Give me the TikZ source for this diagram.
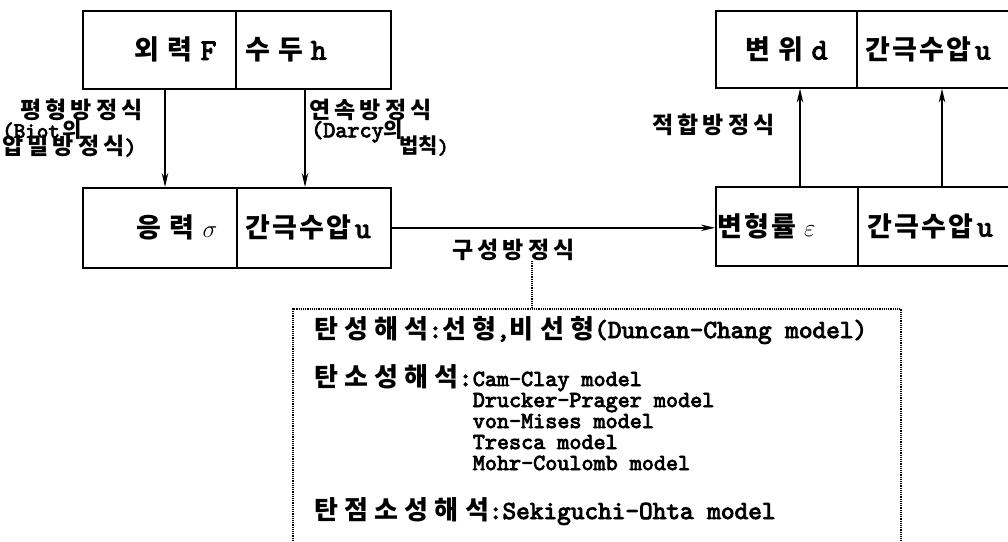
\documentclass[tikz,border=0pt]{standalone}
\usepackage{fontspec}
\usetikzlibrary{arrows.meta}
\newfontfamily\krA{Noto Sans CJK KR}[LetterSpace=8]
\newfontfamily\krB{Noto Sans CJK KR}[LetterSpace=18]
\newfontfamily\krC{Noto Sans CJK KR}[LetterSpace=24]
\newfontfamily\krD{Noto Sans CJK KR}
\newfontfamily\mob{lmmono10-regular}[Extension=.otf, FakeBold=3.5]
\newcommand\KA[1]{{\krA\bfseries #1}}
\newcommand\KB[1]{{\krB\bfseries #1}}
\newcommand\KC[1]{{\krC\bfseries #1}}
\newcommand\KD[1]{{\krD\bfseries #1}}
\newcommand\MO[1]{{\mob #1}}
\newcommand\BL[1]{{\fontsize{30}{30}\selectfont\mob #1}}
\begin{document}
\begin{tikzpicture}[x=1pt,y=-1pt,
  cell/.style={draw, line width=1.6pt, inner sep=0pt, anchor=north west},
  arr/.style={line width=1.4pt, -{Stealth[length=14pt,width=6.5pt]}},
  boxtxt/.style={inner sep=0pt, font=\fontsize{27}{29}\selectfont},
  lbl/.style={inner sep=0pt, anchor=west, font=\fontsize{23}{25}\selectfont},
  body/.style={inner sep=0pt, anchor=base west, font=\fontsize{26}{28}\selectfont},
  small/.style={inner sep=0pt, anchor=base west, font=\fontsize{23}{25}\selectfont},
  dotline/.style={densely dotted, line width=1.2pt}]
\useasboundingbox (0,0) rectangle (1008,541);
% cells
\node[cell, minimum width=153pt, minimum height=78pt] (F) at (82,10) {};
\node[cell, minimum width=155pt, minimum height=78pt] (h) at (235,10) {};
\node[cell, minimum width=154pt, minimum height=80pt] (sig) at (82,187) {};
\node[cell, minimum width=154pt, minimum height=80pt] (u1) at (236,187) {};
\node[cell, minimum width=141pt, minimum height=77pt] (d) at (715,10) {};
\node[cell, minimum width=160pt, minimum height=77pt] (u2) at (856,10) {};
\node[cell, minimum width=142pt, minimum height=79pt] (eps) at (715,186) {};
\node[cell, minimum width=160pt, minimum height=79pt] (u3) at (857,186) {};
% cell texts
\node[boxtxt, anchor=east] (tF) at ([xshift=-20pt]F.east) {\KA{외}\hspace{8pt}\KA{력}\hspace{8pt}\BL{F}};
\node[boxtxt, anchor=west] (th) at ([xshift=10pt]h.west) {\KA{수}\hspace{8pt}\KA{두}\hspace{8pt}\BL{h}};
\node[boxtxt, anchor=east] (tsig) at ([xshift=-20pt]sig.east) {\KA{응}\hspace{8pt}\KA{력}\hspace{8pt}$\sigma$};
\node[boxtxt, anchor=west] (tu1) at ([xshift=9pt]u1.west) {\KA{간극수압}\hspace{4pt}\BL{u}};
\node[boxtxt, anchor=east] (td) at ([xshift=-30pt]d.east) {\KA{변}\hspace{8pt}\KA{위}\hspace{8pt}\BL{d}};
\node[boxtxt, anchor=west] (tu2) at ([xshift=9pt]u2.west) {\KA{간극수압}\hspace{4pt}\BL{u}};
\node[boxtxt, anchor=west] (teps) at ([xshift=2pt]eps.west) {\KA{변형률}\hspace{8pt}$\varepsilon$};
\node[boxtxt, anchor=west] (tu3) at ([xshift=10pt]u3.west) {\KA{간극수압}\hspace{4pt}\BL{u}};
% arrows
\draw[arr] (F.south west -| 165,0) -- (sig.north west -| 165,0);
\draw[arr] (h.south west -| 305,0) -- (u1.north west -| 305,0);
\draw[arr] (eps.north west -| 800,0) -- (d.south west -| 800,0);
\draw[arr] (u3.north west -| 942,0) -- (u2.south west -| 942,0);
\draw[arr] (u1.east) -- (u1.east -| eps.west);
% labels
\node[lbl] (l1) at (20,110) {\KB{평형방정식}};
\node[lbl, font=\fontsize{22}{22}\selectfont] (biot) at (2,130) {\MO{(Biot}\hspace{3pt}{\fontsize{21}{22}\selectfont\KD{의}}};
\node[lbl] (l1b) at (2,146) {\KB{압밀방정식}\MO{)}};
\node[lbl] (l2) at (309,110) {\KB{연속방정식}};
\node[lbl, font=\fontsize{23}{25}\selectfont] (darcy) at (311,131) {\MO{(Darcy}{\fontsize{21}{22}\selectfont\KD{의}}};
\node[lbl, font=\fontsize{21}{22}\selectfont] (law) at (399,146) {\KD{법칙}\MO{)}};
\node[lbl] (l3) at (652,125) {\KB{적합방정식}};
\node[lbl] (ks) at (452,250) {\KB{구성방정식}};
% dotted box
\coordinate (bt) at (532,309);
\coordinate (bl) at (293,541);
\coordinate (btl) at (293,309);
\coordinate (btr) at (901,309);
\coordinate (br) at (901,541);
\draw[dotline] (ks.south -| bt) -- (bt);
\draw[dotline] (bl) -- (btl) -- (btr) -- (br);
% body text
\node[body] (b1) at (314,338) {\KC{탄성해석}\MO{:}\KC{선형}\MO{,}\KC{비선형}\MO{(Duncan-Chang model)}};
\node[body] (b2) at (314,386) {\KC{탄소성해석}\MO{:}};
\node[small] (cam) at (b2.base east) {\MO{Cam-Clay model}};
\node[small] (dp) at ([yshift=-21pt]cam.base west) {\MO{Drucker-Prager model}};
\node[small] (vm) at ([yshift=-21pt]dp.base west) {\MO{von-Mises model}};
\node[small] (tr) at ([yshift=-21pt]vm.base west) {\MO{Tresca model}};
\node[small] (mc) at ([yshift=-21pt]tr.base west) {\MO{Mohr-Coulomb model}};
\node[body] (b3) at (314,519) {\KC{탄점소성해석}\MO{:Sekiguchi-Ohta model}};
\end{tikzpicture}
\end{document}
